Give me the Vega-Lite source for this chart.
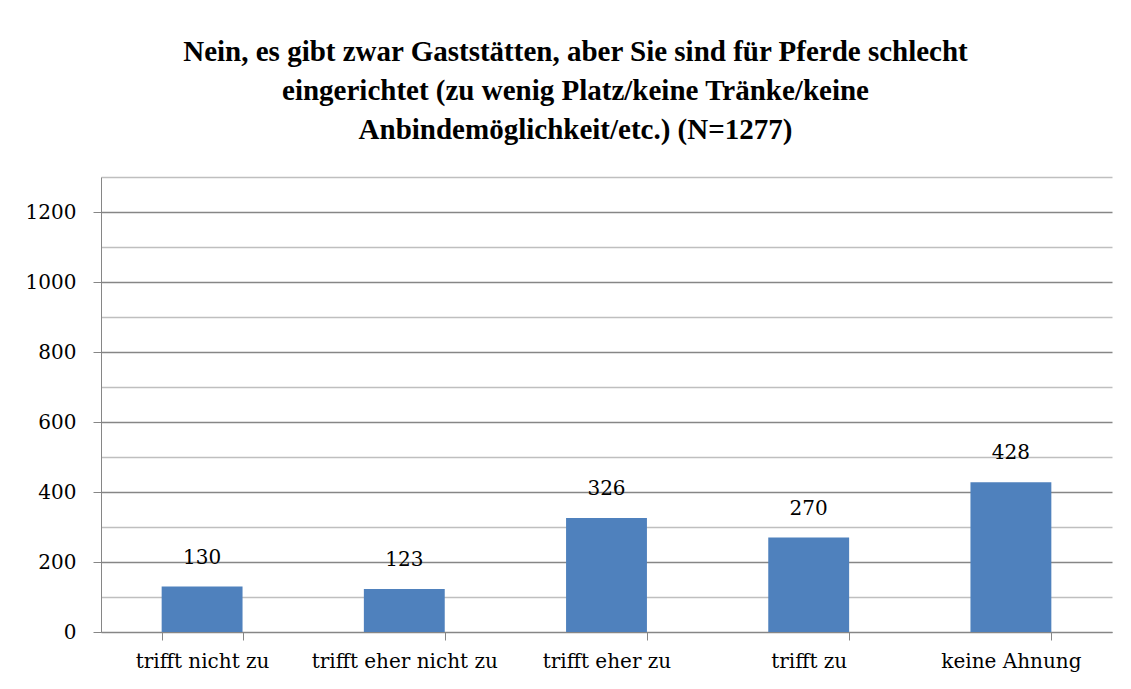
{
  "$schema": "https://vega.github.io/schema/vega-lite/v6.json",
  "width": 1011,
  "height": 455,
  "autosize": "none",
  "padding": {"left": 101, "top": 177, "right": 19, "bottom": 57},
  "background": "white",
  "title": {
    "text": ["Nein, es gibt zwar Gaststätten, aber Sie sind für Pferde schlecht", "eingerichtet (zu wenig Platz/keine Tränke/keine", "Anbindemöglichkeit/etc.) (N=1277)"],
    "font": "Liberation Serif",
    "fontSize": 29,
    "fontWeight": "bold",
    "color": "black",
    "lineHeight": 39,
    "anchor": "middle",
    "dx": -31,
    "offset": 32
  },
  "data": {
    "values": [
      {"category": "trifft nicht zu", "count": 130},
      {"category": "trifft eher nicht zu", "count": 123},
      {"category": "trifft eher zu", "count": 326},
      {"category": "trifft zu", "count": 270},
      {"category": "keine Ahnung", "count": 428}
    ]
  },
  "encoding": {
    "x": {
      "field": "category",
      "type": "nominal",
      "sort": null,
      "scale": {"paddingInner": 0.6, "paddingOuter": 0.3},
      "axis": {
        "title": null,
        "labelAngle": 0,
        "labelFont": "DejaVu Serif",
        "labelFontSize": 20,
        "labelLimit": 0,
        "labelColor": "black",
        "labelPadding": 11,
        "domainColor": "#868686",
        "tickColor": "#868686",
        "tickSize": 8,
        "tickBand": "extent",
        "grid": false
      }
    },
    "y": {
      "field": "count",
      "type": "quantitative",
      "scale": {"domain": [0, 1300], "nice": false},
      "axis": {
        "title": null,
        "values": [0, 100, 200, 300, 400, 500, 600, 700, 800, 900, 1000, 1100, 1200, 1300],
        "labelExpr": "datum.value % 200 === 0 && datum.value <= 1200 ? datum.label : ''",
        "format": "d",
        "labelFont": "DejaVu Serif",
        "labelFontSize": 20,
        "labelColor": "black",
        "labelPadding": 17,
        "domainColor": "#868686",
        "tickSize": 8,
        "tickColor": {"condition": {"test": "datum.value % 200 === 0 && datum.value <= 1200", "value": "#868686"}, "value": "rgba(0,0,0,0)"},
        "grid": true,
        "gridColor": {"condition": {"test": "datum.value % 200 === 0 && datum.value <= 1200", "value": "#868686"}, "value": "#BFBFBF"},
        "gridWidth": 1.3
      }
    }
  },
  "layer": [
    {"mark": {"type": "bar", "color": "#4F81BD"}},
    {
      "mark": {"type": "text", "baseline": "bottom", "dy": -19, "font": "DejaVu Serif", "fontSize": 20, "color": "black"},
      "encoding": {"text": {"field": "count", "type": "quantitative"}}
    }
  ],
  "config": {
    "view": {"stroke": null}
  }
}
